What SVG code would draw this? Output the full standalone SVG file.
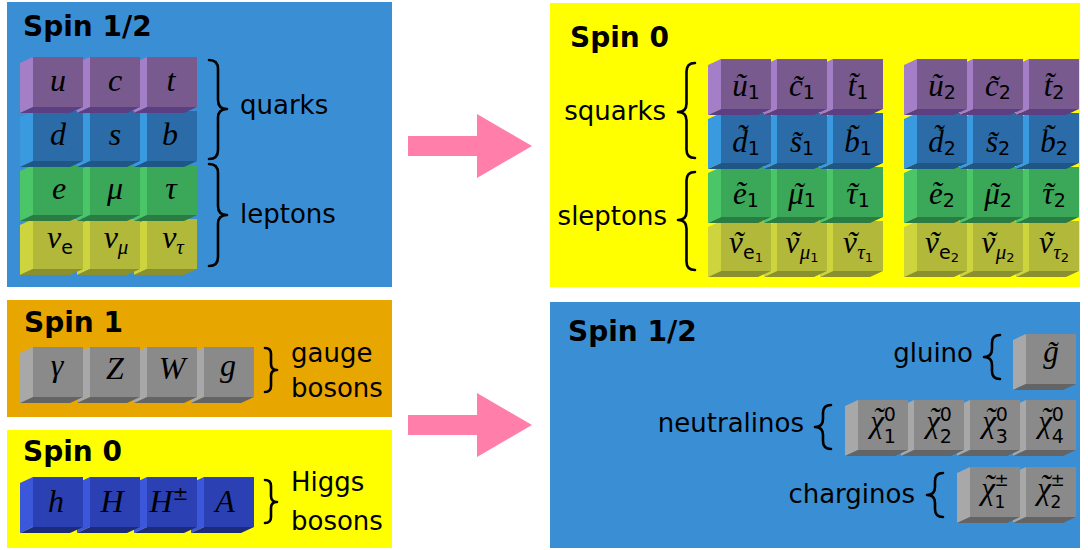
<svg xmlns="http://www.w3.org/2000/svg" width="1088" height="550" viewBox="0 0 1088 550">
  <style>
    .bg-blue { fill: #3a8fd4; }
    .bg-yellow { fill: #ffff00; }
    .bg-orange { fill: #e8a600; }
    .ttl { font-family: "DejaVu Sans", sans-serif; font-weight: bold; font-size: 28px; fill: #000; }
    .lbl { font-family: "DejaVu Sans", sans-serif; font-size: 26px; fill: #000; }
    .end { text-anchor: end; }
    .m { font-family: "Liberation Serif", "DejaVu Serif", serif; font-style: italic; font-size: 32px; text-anchor: middle; fill: #000; }
    .mr { font-family: "Liberation Serif", "DejaVu Serif", serif; font-style: italic; font-size: 31px; text-anchor: middle; fill: #000; }
    .ms { font-family: "Liberation Serif", serif; font-style: italic; font-size: 21px; }
    .ss { font-family: "DejaVu Sans", sans-serif; font-style: normal; font-size: 19px; }
    .sx { font-family: "DejaVu Sans", sans-serif; font-style: normal; font-size: 17px; }
    .sss { font-family: "DejaVu Sans", sans-serif; font-style: normal; font-size: 13px; }
    .brace { fill: none; stroke: #000; stroke-width: 2.6; stroke-linecap: round; stroke-linejoin: round; }
    .arrow { fill: #ff7eaa; }
    .pu-f { fill: #785a8e; } .pu-l { fill: #a47ec6; } .pu-b { fill: #5c3e82; }
    .bl-f { fill: #2a6ba8; } .bl-l { fill: #3a9ae0; } .bl-b { fill: #1e5686; }
    .gr-f { fill: #3aa858; } .gr-l { fill: #4ac668; } .gr-b { fill: #2a7c42; }
    .ol-f { fill: #b2b93a; } .ol-l { fill: #ced43e; } .ol-b { fill: #8a902e; }
    .gy-f { fill: #8a8a8a; } .gy-l { fill: #a8a8a8; } .gy-b { fill: #646464; }
    .hb-f { fill: #2b40b2; } .hb-l { fill: #3b58da; } .hb-b { fill: #1d2c7a; }
  </style>
  <defs>
    <!-- one block: front face, lit left side, shaded bottom -->
    <g id="t-pu"><polygon class="pu-l" points="0,0 -13,6 -13,56 0,50"/><polygon class="pu-b" points="0,50 50,50 37,56 -13,56"/><rect class="pu-f" width="50" height="50"/></g>
    <g id="t-bl"><polygon class="bl-l" points="0,0 -13,6 -13,56 0,50"/><polygon class="bl-b" points="0,50 50,50 37,56 -13,56"/><rect class="bl-f" width="50" height="50"/></g>
    <g id="t-gr"><polygon class="gr-l" points="0,0 -13,6 -13,56 0,50"/><polygon class="gr-b" points="0,50 50,50 37,56 -13,56"/><rect class="gr-f" width="50" height="50"/></g>
    <g id="t-ol"><polygon class="ol-l" points="0,0 -13,6 -13,56 0,50"/><polygon class="ol-b" points="0,50 50,50 37,56 -13,56"/><rect class="ol-f" width="50" height="50"/></g>
    <g id="t-gy"><polygon class="gy-l" points="0,0 -13,6 -13,56 0,50"/><polygon class="gy-b" points="0,50 50,50 37,56 -13,56"/><rect class="gy-f" width="50" height="50"/></g>
    <g id="t-hb"><polygon class="hb-l" points="0,0 -13,6 -13,56 0,50"/><polygon class="hb-b" points="0,50 50,50 37,56 -13,56"/><rect class="hb-f" width="50" height="50"/></g>
  </defs>

  <rect width="1088" height="550" fill="#ffffff"/>

  <!-- Standard Model fermions -->
  <g id="sm-fermions">
    <rect class="bg-blue" x="7" y="2" width="385" height="285"/>
    <text class="ttl" x="23" y="36">Spin 1/2</text>
    <use href="#t-ol" x="147" y="219"/><use href="#t-ol" x="90" y="219"/><use href="#t-ol" x="33" y="219"/>
    <use href="#t-gr" x="147" y="165"/><use href="#t-gr" x="90" y="165"/><use href="#t-gr" x="33" y="165"/>
    <use href="#t-bl" x="147" y="111"/><use href="#t-bl" x="90" y="111"/><use href="#t-bl" x="33" y="111"/>
    <use href="#t-pu" x="147" y="57"/><use href="#t-pu" x="90" y="57"/><use href="#t-pu" x="33" y="57"/>
    <text class="m" x="58" y="91">u</text><text class="m" x="115" y="91">c</text><text class="m" x="171" y="91">t</text>
    <text class="m" x="58" y="145">d</text><text class="m" x="115" y="145">s</text><text class="m" x="170" y="145">b</text>
    <text class="m" x="59" y="199">e</text><text class="m" x="115" y="199">μ</text><text class="m" x="171" y="199">τ</text>
    <text class="m" x="60" y="248">ν<tspan class="ss" dy="6">e</tspan></text>
    <text class="m" x="116" y="248">ν<tspan class="ms" dy="6">μ</tspan></text>
    <text class="m" x="173" y="248">ν<tspan class="ms" dy="6">τ</tspan></text>
    <path class="brace" d="M209,60 Q218,60 218,69 L218,100 Q218,109 227,109 Q218,109 218,118 L218,150 Q218,159 209,159"/>
    <path class="brace" d="M209,164 Q218,164 218,173 L218,206 Q218,215 227,215 Q218,215 218,224 L218,257 Q218,266 209,266"/>
    <text class="lbl" x="240" y="114">quarks</text>
    <text class="lbl" x="240" y="223">leptons</text>
  </g>

  <!-- gauge bosons -->
  <g id="sm-gauge">
    <rect class="bg-orange" x="7" y="300" width="385" height="117"/>
    <text class="ttl" x="24" y="332">Spin 1</text>
    <use href="#t-gy" x="204" y="347"/><use href="#t-gy" x="147" y="347"/><use href="#t-gy" x="90" y="347"/><use href="#t-gy" x="33" y="347"/>
    <text class="m" x="57" y="376">γ</text><text class="m" x="115" y="379">Z</text><text class="m" x="172" y="379">W</text><text class="m" x="228" y="376">g</text>
    <path class="brace" d="M265,348 Q271,348 271,354 L271,364 Q271,370 277,370 Q271,370 271,376 L271,386 Q271,392 265,392"/>
    <text class="lbl" x="291" y="362">gauge</text>
    <text class="lbl" x="291" y="397">bosons</text>
  </g>

  <!-- Higgs sector -->
  <g id="sm-higgs">
    <rect class="bg-yellow" x="7" y="430" width="385" height="118"/>
    <text class="ttl" x="23" y="461">Spin 0</text>
    <use href="#t-hb" x="204" y="477"/><use href="#t-hb" x="147" y="477"/><use href="#t-hb" x="90" y="477"/><use href="#t-hb" x="33" y="477"/>
    <text class="m" x="56" y="512">h</text><text class="m" x="112" y="512">H</text>
    <text class="m" x="169" y="512">H<tspan class="ss" dy="-12">±</tspan></text>
    <text class="m" x="225" y="512">A</text>
    <path class="brace" d="M265,480 Q271,480 271,486 L271,496 Q271,502 277,502 Q271,502 271,508 L271,517 Q271,523 265,523"/>
    <text class="lbl" x="291" y="491">Higgs</text>
    <text class="lbl" x="291" y="530">bosons</text>
  </g>

  <!-- sfermions -->
  <g id="sfermions">
    <rect class="bg-yellow" x="550" y="3" width="530" height="284"/>
    <text class="ttl" x="570" y="47">Spin 0</text>
    <use href="#t-ol" x="1029" y="221"/><use href="#t-ol" x="973" y="221"/><use href="#t-ol" x="917" y="221"/>
    <use href="#t-ol" x="833" y="221"/><use href="#t-ol" x="777" y="221"/><use href="#t-ol" x="721" y="221"/>
    <use href="#t-gr" x="1029" y="167"/><use href="#t-gr" x="973" y="167"/><use href="#t-gr" x="917" y="167"/>
    <use href="#t-gr" x="833" y="167"/><use href="#t-gr" x="777" y="167"/><use href="#t-gr" x="721" y="167"/>
    <use href="#t-bl" x="1029" y="113"/><use href="#t-bl" x="973" y="113"/><use href="#t-bl" x="917" y="113"/>
    <use href="#t-bl" x="833" y="113"/><use href="#t-bl" x="777" y="113"/><use href="#t-bl" x="721" y="113"/>
    <use href="#t-pu" x="1029" y="59"/><use href="#t-pu" x="973" y="59"/><use href="#t-pu" x="917" y="59"/>
    <use href="#t-pu" x="833" y="59"/><use href="#t-pu" x="777" y="59"/><use href="#t-pu" x="721" y="59"/>

    <!-- first generation of superpartner labels -->
    <text class="mr" x="746" y="96">ũ<tspan class="ss" dy="3">1</tspan></text>
    <text class="mr" x="802" y="96">c̃<tspan class="ss" dy="3">1</tspan></text>
    <text class="mr" x="858" y="96">t̃<tspan class="ss" dy="3">1</tspan></text>
    <text class="mr" x="746" y="152">d̃<tspan class="ss" dy="3">1</tspan></text>
    <text class="mr" x="802" y="152">s̃<tspan class="ss" dy="3">1</tspan></text>
    <text class="mr" x="858" y="152">b̃<tspan class="ss" dy="3">1</tspan></text>
    <text class="mr" x="746" y="204">ẽ<tspan class="ss" dy="3">1</tspan></text>
    <text class="mr" x="802" y="204">μ<tspan dx="-11">˜</tspan><tspan class="ss" dx="0.5" dy="3">1</tspan></text>
    <text class="mr" x="858" y="204">τ<tspan dx="-10">˜</tspan><tspan class="ss" dx="0" dy="3">1</tspan></text>
    <text class="mr" x="746" y="253">ν<tspan dx="-10">˜</tspan><tspan class="ss" dy="6">e</tspan><tspan class="sss" dy="3">1</tspan></text>
    <text class="mr" x="802" y="253">ν<tspan dx="-10">˜</tspan><tspan class="ms" dy="6">μ</tspan><tspan class="sss" dy="3">1</tspan></text>
    <text class="mr" x="858" y="253">ν<tspan dx="-10">˜</tspan><tspan class="ms" dy="6">τ</tspan><tspan class="sss" dy="3">1</tspan></text>

    <!-- second generation of superpartner labels -->
    <text class="mr" x="942" y="96">ũ<tspan class="ss" dy="3">2</tspan></text>
    <text class="mr" x="998" y="96">c̃<tspan class="ss" dy="3">2</tspan></text>
    <text class="mr" x="1054" y="96">t̃<tspan class="ss" dy="3">2</tspan></text>
    <text class="mr" x="942" y="152">d̃<tspan class="ss" dy="3">2</tspan></text>
    <text class="mr" x="998" y="152">s̃<tspan class="ss" dy="3">2</tspan></text>
    <text class="mr" x="1054" y="152">b̃<tspan class="ss" dy="3">2</tspan></text>
    <text class="mr" x="942" y="204">ẽ<tspan class="ss" dy="3">2</tspan></text>
    <text class="mr" x="998" y="204">μ<tspan dx="-11">˜</tspan><tspan class="ss" dx="0.5" dy="3">2</tspan></text>
    <text class="mr" x="1054" y="204">τ<tspan dx="-10">˜</tspan><tspan class="ss" dx="0" dy="3">2</tspan></text>
    <text class="mr" x="942" y="253">ν<tspan dx="-10">˜</tspan><tspan class="ss" dy="6">e</tspan><tspan class="sss" dy="3">2</tspan></text>
    <text class="mr" x="998" y="253">ν<tspan dx="-10">˜</tspan><tspan class="ms" dy="6">μ</tspan><tspan class="sss" dy="3">2</tspan></text>
    <text class="mr" x="1054" y="253">ν<tspan dx="-10">˜</tspan><tspan class="ms" dy="6">τ</tspan><tspan class="sss" dy="3">2</tspan></text>

    <path class="brace" d="M695,63 Q686.5,63 686.5,71.5 L686.5,103.5 Q686.5,112 678,112 Q686.5,112 686.5,120.5 L686.5,149.5 Q686.5,158 695,158"/>
    <path class="brace" d="M695,172 Q686.5,172 686.5,180.5 L686.5,211.5 Q686.5,220 678,220 Q686.5,220 686.5,228.5 L686.5,261.5 Q686.5,270 695,270"/>
    <text class="lbl end" x="666" y="120">squarks</text>
    <text class="lbl end" x="667" y="225">sleptons</text>
  </g>

  <!-- gauginos and higgsinos -->
  <g id="gauginos">
    <rect class="bg-blue" x="550" y="302" width="530" height="246"/>
    <text class="ttl" x="568" y="341">Spin 1/2</text>
    <use href="#t-gy" x="1026" y="334"/>
    <use href="#t-gy" x="1026" y="400"/><use href="#t-gy" x="970" y="400"/><use href="#t-gy" x="914" y="400"/><use href="#t-gy" x="858" y="400"/>
    <use href="#t-gy" x="1026" y="467"/><use href="#t-gy" x="970" y="467"/>

    <text class="mr" x="1051" y="362">g̃</text>

    <text class="mr" x="883" y="432">χ<tspan dx="-11" dy="-3">˜</tspan><tspan class="ss" dx="0.5" dy="-8">0</tspan><tspan class="ss" dx="-12.1" dy="22">1</tspan></text>
    <text class="mr" x="939" y="432">χ<tspan dx="-11" dy="-3">˜</tspan><tspan class="ss" dx="0.5" dy="-8">0</tspan><tspan class="ss" dx="-12.1" dy="22">2</tspan></text>
    <text class="mr" x="995" y="432">χ<tspan dx="-11" dy="-3">˜</tspan><tspan class="ss" dx="0.5" dy="-8">0</tspan><tspan class="ss" dx="-12.1" dy="22">3</tspan></text>
    <text class="mr" x="1051" y="432">χ<tspan dx="-11" dy="-3">˜</tspan><tspan class="ss" dx="0.5" dy="-8">0</tspan><tspan class="ss" dx="-12.1" dy="22">4</tspan></text>

    <text class="mr" x="995" y="499">χ<tspan dx="-11" dy="-3">˜</tspan><tspan class="sx" dx="0.5" dy="-10">±</tspan><tspan class="sx" dx="-14.3" dy="22">1</tspan></text>
    <text class="mr" x="1051" y="499">χ<tspan dx="-11" dy="-3">˜</tspan><tspan class="sx" dx="0.5" dy="-10">±</tspan><tspan class="sx" dx="-14.3" dy="22">2</tspan></text>

    <path class="brace" d="M1000,335 Q992,335 992,343 L992,349 Q992,357 984,357 Q992,357 992,365 L992,371 Q992,379 1000,379"/>
    <path class="brace" d="M831,405 Q823,405 823,413 L823,419 Q823,427 815,427 Q823,427 823,435 L823,441 Q823,449 831,449"/>
    <path class="brace" d="M943,473 Q935,473 935,481 L935,487 Q935,495 927,495 Q935,495 935,503 L935,509 Q935,517 943,517"/>
    <text class="lbl end" x="973" y="362">gluino</text>
    <text class="lbl end" x="804" y="432">neutralinos</text>
    <text class="lbl end" x="915" y="503">charginos</text>
  </g>

  <!-- superpartner mapping arrows -->
  <g id="connectors">
    <polygon class="arrow" points="408,136 477,136 477,114 532,146 477,178 477,156 408,156"/>
    <polygon class="arrow" points="408,415 477,415 477,393 532,425 477,457 477,435 408,435"/>
  </g>
</svg>
